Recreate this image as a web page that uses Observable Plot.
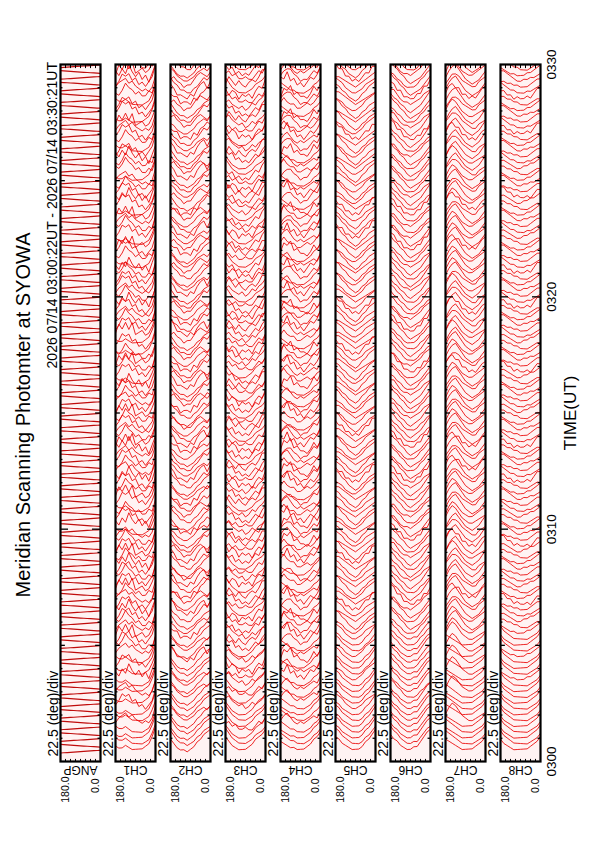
<!DOCTYPE html>
<html><head><meta charset="utf-8">
<script src="https://cdn.jsdelivr.net/npm/d3@7"></script>
<script src="https://cdn.jsdelivr.net/npm/@observablehq/plot@0.6"></script>
<style>
html,body{margin:0;padding:0;background:#fff;width:595px;height:842px;overflow:hidden;}
#land{position:absolute;left:0;top:0;width:842px;height:595px;transform-origin:0 0;transform:translate(0px,842px) rotate(-90deg);font-family:"Liberation Sans",Arial,Helvetica,sans-serif;color:#000;}
#chart{position:absolute;left:0;top:0;}
#title{position:absolute;left:0;width:854px;top:11px;text-align:center;font-size:20px;line-height:24px;}
#subtitle{position:absolute;right:62px;top:45px;font-size:14px;line-height:14px;white-space:nowrap;}
</style></head><body>
<div id="land">
<div id="chart"></div>
<div id="title">Meridian Scanning Photomter at SYOWA</div>
<div id="subtitle">2026 07/14 03:00:22UT - 2026 07/14 03:30:21UT</div>
</div>
<script>
// ---- data ----
const channels = ["ANGP","CH1","CH2","CH3","CH4","CH5","CH6","CH7","CH8"];
const scanAngles = [180,165,150,135,120,105,90,75,60,45,30,15,0];
const angleTicks = [0,22.5,45,67.5,90,112.5,135,157.5,180];
const timeTickSec = [0,600,1200,1800];
const timeTickLabels = ["0300","0310","0320","0330"];
const scanStartSec = 22;     // 03:00:22
const scanStepSec = 15;
const scanCount = 120;
const scanSweepSec = 7;
const secPerUnit = 6;        // trace displacement per intensity unit

const ch1Profiles = [
  [3,5,6,7,5,6,4,3,2,3,2,4,9],
  [2,4,7,6,7,4,5,2,3,1,3,5,10],
  [4,3,5,8,6,5,3,4,2,2,4,3,8],
  [3,2,2,3,2,1,1,1,1,2,3,6,10],
  [5,3,6,4,8,5,3,5,2,4,1,5,9],
  [2,6,4,7,4,7,2,3,4,2,3,6,10]];
const ch2Profiles = [
  [6,5,3,2,1,1,2,3,5,6,7,6,8],
  [7,5,4,2,2,1,1,3,4,6,8,7,9],
  [5,6,4,3,1,2,2,4,6,7,6,5,7],
  [6,4,2,1,1,0,1,2,4,5,7,8,9],
  [8,6,3,3,2,1,3,2,5,7,8,5,8],
  [5,4,4,1,2,2,1,4,3,6,7,9,8]];
const ch3Profiles = [
  [5,6,4,3,2,3,1,2,4,3,5,6,8],
  [6,4,5,2,3,1,2,1,3,5,4,7,9],
  [4,5,3,4,2,2,3,2,2,4,6,5,8],
  [7,5,3,2,1,1,1,2,3,5,6,7,9],
  [6,3,5,4,1,3,2,3,1,4,6,5,9],
  [3,6,4,2,4,2,1,3,4,3,5,8,8]];
const ch4Profiles = [
  [4,6,7,5,3,2,3,2,3,4,5,4,7],
  [3,5,6,6,4,3,1,2,2,4,6,5,8],
  [5,7,5,4,4,2,2,3,4,3,4,6,7],
  [5,4,3,2,2,1,1,1,2,3,5,6,8],
  [6,5,8,4,5,2,3,1,3,5,4,6,9],
  [2,6,5,7,3,4,2,2,1,3,6,4,7]];
const ch5Profiles = [
  [7,6,5,3,2,1,1,2,3,5,6,7,8],
  [8,7,5,4,2,1,0,1,3,4,6,7,8],
  [6,6,5,4,3,2,1,2,3,4,5,6,7],
  [7,6,4,3,2,1,1,1,2,4,5,7,9],
  [8,6,6,3,3,1,2,1,3,5,5,8,8]];
const ch6Profiles = [
  [8,7,5,4,2,1,1,1,2,4,5,7,8],
  [9,7,6,4,3,1,0,1,2,3,5,7,9],
  [7,7,5,3,2,2,1,2,3,4,6,7,8],
  [8,6,5,3,2,1,1,2,2,4,6,8,9],
  [9,8,5,5,2,2,1,1,3,3,6,6,9]];
const ch7Profiles = [
  [3,6,8,7,5,3,2,1,1,2,3,4,5],
  [2,5,7,8,6,4,2,1,0,1,2,4,6],
  [3,5,7,7,6,4,3,2,1,1,3,4,5],
  [6,5,4,3,2,1,1,1,1,2,3,4,6],
  [4,7,8,6,6,3,3,1,2,1,3,5,6]];
const ch8Profiles = [
  [5,4,3,2,2,1,1,1,2,2,3,4,5],
  [4,4,3,3,2,2,1,1,1,2,3,4,4],
  [5,5,4,3,2,1,1,2,2,3,3,4,5],
  [6,4,3,2,1,1,1,1,1,2,3,4,6],
  [5,5,3,3,1,2,1,1,2,1,3,5,5]];

const ch1Sequence = ["3333033130","3343130215","0214102512","1425120341","2315214021","0452012510","2143125231","3512014201","1243215312","0531412032","2413210531","1320145210"];
const ch2Sequence = ["3333303330","3033343035","0314025142","3142130531","2150314013","0541023152","1342150213","2415021340","3120352041","0253201342","1340150213","2541203150"];
const ch3Sequence = ["3332333032","3024303150","1243215340","2314251021","0351042153","1423152314","3251320142","0152412305","2413251340","1302154213","3150342051","0243521302"];
const ch4Sequence = ["3333033303","0340350314","1253140321","3241250154","2013241520","1540132413","0352041253","2041253140","3140352041","1253140312","0351042153","2153410351"];
const ch5Sequence = ["3333333033","3303330330","0120420120","1241201201","2012014012","0102410201","1210121042","2020140201","0121012141","1042010210","2101240121","0210241020"];
const ch6Sequence = ["3333333330","3333033303","0101241012","1012014120","2010124101","0140101201","1201042010","0141201012","1012014120","2040120101","0120141201","1241012010"];
const ch7Sequence = ["3333303333","0330303030","0101214121","1210141210","0121012141","2141210121","0121042101","1012141210","2101014101","0124012102","1012141210","2141210121"];
const ch8Sequence = ["3333333333","3303330333","0120140120","1201241201","2012014012","0140120120","1201241201","2012014012","0140120120","1201241201","2012014012","0140120120"];

// ---- build table ----
const profiles = {CH1:ch1Profiles,CH2:ch2Profiles,CH3:ch3Profiles,CH4:ch4Profiles,CH5:ch5Profiles,CH6:ch6Profiles,CH7:ch7Profiles,CH8:ch8Profiles};
const sequences = {CH1:ch1Sequence,CH2:ch2Sequence,CH3:ch3Sequence,CH4:ch4Sequence,CH5:ch5Sequence,CH6:ch6Sequence,CH7:ch7Sequence,CH8:ch8Sequence};
const chNames = channels.slice(1);
const seqStr = {}; chNames.forEach(c => seqStr[c] = sequences[c].join(""));
const n = scanAngles.length;
const angRows = [], chRows = [];
for (let i = 0; i < scanCount; i++) {
  const t0 = scanStartSec + i * scanStepSec;
  const forward = i % 2 === 0;
  scanAngles.forEach((a, k) => {
    const frac = forward ? k / (n - 1) : 1 - k / (n - 1);
    const ts = t0 + frac * scanSweepSec;
    angRows.push({ch: "ANGP", key: "ANGP" + i, angle: a, t: ts});
    for (const c of chNames) {
      const idx = +(seqStr[c][i] ?? "0") || 0;
      const p = profiles[c][idx] || profiles[c][0];
      chRows.push({ch: c, key: c + i, angle: a, t: ts + p[k] * secPerUnit});
    }
  });
}
const ticks = d3.range(60, 1800, 60).map(s => ({t: s, len: s % 600 === 0 ? 36 : s % 300 === 0 ? 22 : 11}));

const plot = Plot.plot({
  width: 842, height: 595,
  marginLeft: 80, marginRight: 65, marginTop: 60, marginBottom: 55,
  x: {domain: [0, 1800], axis: null},
  y: {domain: [0, 180], axis: null},
  fy: {domain: channels, axis: null, paddingInner: 15/55, paddingOuter: 0},
  style: {fontFamily: "Liberation Sans, Arial, sans-serif", background: "transparent", color: "#000"},
  marks: [
    Plot.frame({fill: "#fff3f3"}),
    Plot.line(angRows, {x: "t", y: "angle", z: "key", fy: "ch", stroke: "#c00c0c", strokeWidth: 1.2, clip: true}),
    Plot.line(chRows, {x: "t", y: "angle", z: "key", fy: "ch", stroke: "#ea0000", strokeWidth: 0.85, clip: true}),
    Plot.ruleX(ticks, {x: "t", y1: 0, y2: "len", stroke: "#000", strokeWidth: 1.3}),
    Plot.ruleX(ticks, {x: "t", y1: d => 180 - d.len, y2: 180, stroke: "#000", strokeWidth: 1.3}),
    Plot.ruleY(angleTicks, {y: d => d, x1: 0, x2: 8, stroke: "#000", strokeWidth: 1}),
    Plot.ruleY(angleTicks, {y: d => d, x1: 1792, x2: 1800, stroke: "#000", strokeWidth: 1}),
    Plot.frame({stroke: "#000", strokeWidth: 2.2}),
    Plot.text(channels, {fy: d => d, x: 13, y: 180, text: () => "22.5 (deg)/div", dy: -3, lineAnchor: "bottom", textAnchor: "start", fontSize: 14}),
    Plot.text(channels, {fy: d => d, x: 0, y: 180, text: () => "180.0", dx: -15, dy: 5, textAnchor: "end", fontSize: 10.5}),
    Plot.text(channels, {fy: d => d, x: 0, y: 0, text: () => "0.0", dx: -17, dy: -5, textAnchor: "end", fontSize: 10.5}),
    Plot.text(channels, {fy: d => d, x: 0, y: 90, text: d => d, dx: -8, rotate: -90, fontSize: 12}),
    Plot.text(timeTickSec, {fy: () => "CH8", x: d => d, y: 0, text: (d, i) => timeTickLabels[i], dy: 11, fontSize: 13.5}),
    Plot.text(["TIME(UT)"], {fy: () => "CH8", x: 900, y: 0, text: d => d, dy: 30, fontSize: 17})
  ]
});
document.getElementById("chart").appendChild(plot);
</script>
</body></html>
